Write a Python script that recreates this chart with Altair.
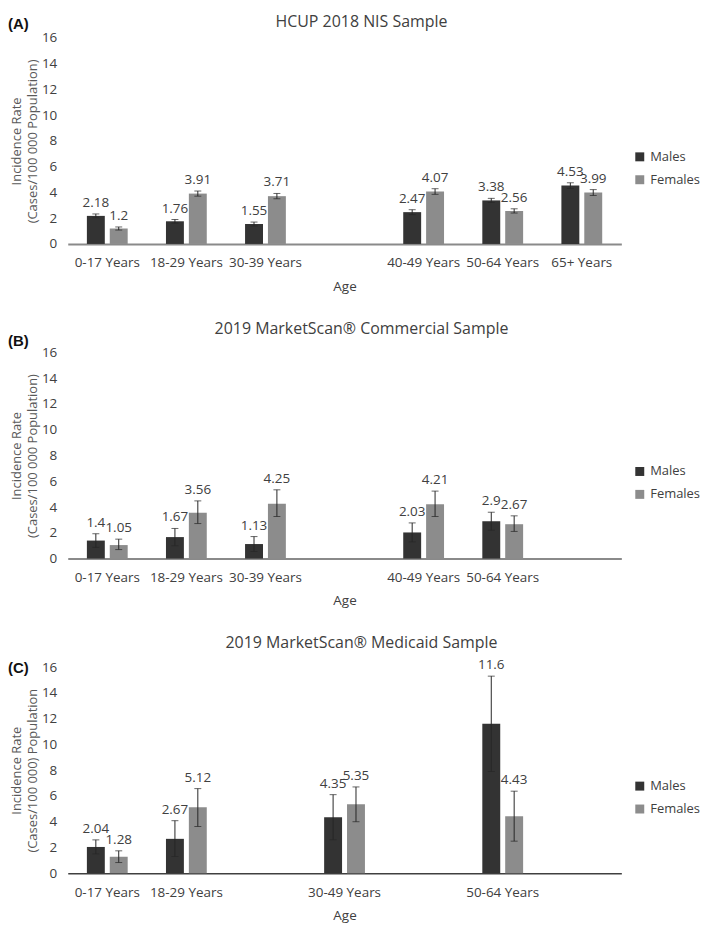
import altair as alt
import pandas as pd

SEXES = ["Males", "Females"]
COLORS = ["#333333", "#8c8c8c"]

slots_a = ["0-17 Years", "18-29 Years", "30-39 Years", " ", "40-49 Years", "50-64 Years", "65+ Years"]
ages_a = ["0-17 Years", "18-29 Years", "30-39 Years", "40-49 Years", "50-64 Years", "65+ Years"]
males_a = [2.18, 1.76, 1.55, 2.47, 3.38, 4.53]
males_a_lo = [2.03, 1.62, 1.40, 2.28, 3.22, 4.31]
males_a_hi = [2.33, 1.90, 1.70, 2.66, 3.54, 4.75]
females_a = [1.2, 3.91, 3.71, 4.07, 2.56, 3.99]
females_a_lo = [1.08, 3.71, 3.51, 3.85, 2.40, 3.76]
females_a_hi = [1.32, 4.11, 3.92, 4.29, 2.73, 4.22]

slots_b = ["0-17 Years", "18-29 Years", "30-39 Years", " ", "40-49 Years", "50-64 Years", "  "]
ages_b = ["0-17 Years", "18-29 Years", "30-39 Years", "40-49 Years", "50-64 Years"]
males_b = [1.4, 1.67, 1.13, 2.03, 2.9]
males_b_lo = [0.87, 1.0, 0.55, 1.3, 2.2]
males_b_hi = [1.93, 2.34, 1.71, 2.77, 3.6]
females_b = [1.05, 3.56, 4.25, 4.21, 2.67]
females_b_lo = [0.70, 2.72, 3.27, 3.27, 2.11]
females_b_hi = [1.51, 4.48, 5.34, 5.24, 3.32]

slots_c = ["0-17 Years", "18-29 Years", " ", "30-49 Years", "  ", "50-64 Years", "   "]
ages_c = ["0-17 Years", "18-29 Years", "30-49 Years", "50-64 Years"]
males_c = [2.04, 2.67, 4.35, 11.6]
males_c_lo = [1.5, 1.3, 2.6, 7.9]
males_c_hi = [2.59, 4.08, 6.1, 15.3]
females_c = [1.28, 5.12, 5.35, 4.43]
females_c_lo = [0.83, 3.63, 4.0, 2.49]
females_c_hi = [1.74, 6.57, 6.7, 6.37]

FONT = "Open Sans"
TXT = "#404040"
H = 207
W = 556


def panel(letter, tag_y, title, title_y, slots, ages, m, mlo, mhi, f, flo, fhi,
          ytitle, domain_color, domain_width):
    rows = []
    for i, a in enumerate(ages):
        rows.append(dict(age=a, sex="Males", value=m[i], lower=mlo[i], upper=mhi[i], label=str(m[i])))
        rows.append(dict(age=a, sex="Females", value=f[i], lower=flo[i], upper=fhi[i], label=str(f[i])))
    df = pd.DataFrame(rows)

    yscale = alt.Scale(domain=[0, 16], nice=False, zero=True)
    yaxis = alt.Axis(values=list(range(0, 17, 2)), grid=False, domain=False, ticks=False, tickSize=0,
                     labelPadding=11, labelFontSize=13.5, labelColor=TXT, labelFont=FONT,
                     title=ytitle, titleFontSize=13, titleFont=FONT, titleColor="#595959",
                     titleFontWeight="normal", titlePadding=2, titleLineHeight=16)

    base = alt.Chart(df).encode(
        x=alt.X("age:N", sort=slots,
                scale=alt.Scale(domain=slots, paddingInner=0.484, paddingOuter=0.242),
                axis=alt.Axis(title="Age", labelAngle=0, ticks=False, tickSize=0, labelPadding=12,
                              labelFontSize=13.5, labelColor=TXT, labelFont=FONT,
                              domainColor=domain_color, domainWidth=domain_width,
                              titleFontSize=13.5, titleFont=FONT, titleColor=TXT,
                              titleFontWeight="normal", titlePadding=10)),
        xOffset=alt.XOffset("sex:N", sort=SEXES,
                            scale=alt.Scale(domain=SEXES, paddingInner=0.217, paddingOuter=0)),
    )

    bars = base.mark_bar().encode(
        y=alt.Y("value:Q", scale=yscale, axis=yaxis),
        color=alt.Color("sex:N", sort=SEXES,
                        scale=alt.Scale(domain=SEXES, range=COLORS),
                        legend=alt.Legend(title=None, orient="none", legendX=568, legendY=113,
                                          symbolType="square", symbolSize=81, symbolStrokeWidth=0,
                                          labelFontSize=13, labelFont=FONT, labelColor=TXT,
                                          rowPadding=9, labelOffset=4)),
    )
    err = base.mark_rule(color="#262626", strokeWidth=1).encode(
        y=alt.Y("lower:Q", scale=yscale, axis=yaxis), y2="upper:Q")
    cap_hi = base.mark_tick(color="#262626", thickness=1, size=7, orient="horizontal").encode(
        y=alt.Y("upper:Q", scale=yscale, axis=yaxis))
    cap_lo = base.mark_tick(color="#262626", thickness=1, size=7, orient="horizontal").encode(
        y=alt.Y("lower:Q", scale=yscale, axis=yaxis))
    labels = base.mark_text(dy=-11, baseline="middle", fontSize=13.5, font=FONT, color=TXT).encode(
        y=alt.Y("upper:Q", scale=yscale, axis=yaxis), text="label:N")

    head = alt.Chart(pd.DataFrame({"tag": [letter], "title": [title]}))
    tag = head.mark_text(
        align="left", baseline="middle", font="Liberation Sans", fontWeight="bold", fontSize=15,
        color="#111111").encode(text="tag:N", x=alt.value(-60), y=alt.value(tag_y))
    ttl = head.mark_text(
        align="center", baseline="middle", font=FONT, fontSize=16, color=TXT
    ).encode(text="title:N", x=alt.value(295), y=alt.value(title_y))

    return alt.layer(bars, err, cap_hi, cap_lo, labels, tag, ttl).properties(width=W, height=H)


pa = panel("(A)", -14, "HCUP 2018 NIS Sample", -16, slots_a, ages_a,
           males_a, males_a_lo, males_a_hi, females_a, females_a_lo, females_a_hi,
           ["Incidence Rate", "(Cases/100 000 Population)"], "#8a8a8a", 2)
pb = panel("(B)", -12, "2019 MarketScan® Commercial Sample", -24, slots_b, ages_b,
           males_b, males_b_lo, males_b_hi, females_b, females_b_lo, females_b_hi,
           ["Incidence Rate", "(Cases/100 000 Population)"], "#8a8a8a", 2)
pc = panel("(C)", 1, "2019 MarketScan® Medicaid Sample", -24, slots_c, ages_c,
           males_c, males_c_lo, males_c_hi, females_c, females_c_lo, females_c_hi,
           ["Incidence Rate", "(Cases/100 000) Population"], "#404040", 1.5)

chart = alt.vconcat(pa, pb, pc, spacing=28).resolve_scale(
    color="independent", x="independent", y="independent", xOffset="independent"
).properties(
    padding={"left": 0, "top": 4, "right": 0, "bottom": 0}
).configure(font=FONT, view=alt.ViewConfig(stroke=None))

chart.save("out.html", embed_options={"renderer": "svg", "actions": False})
